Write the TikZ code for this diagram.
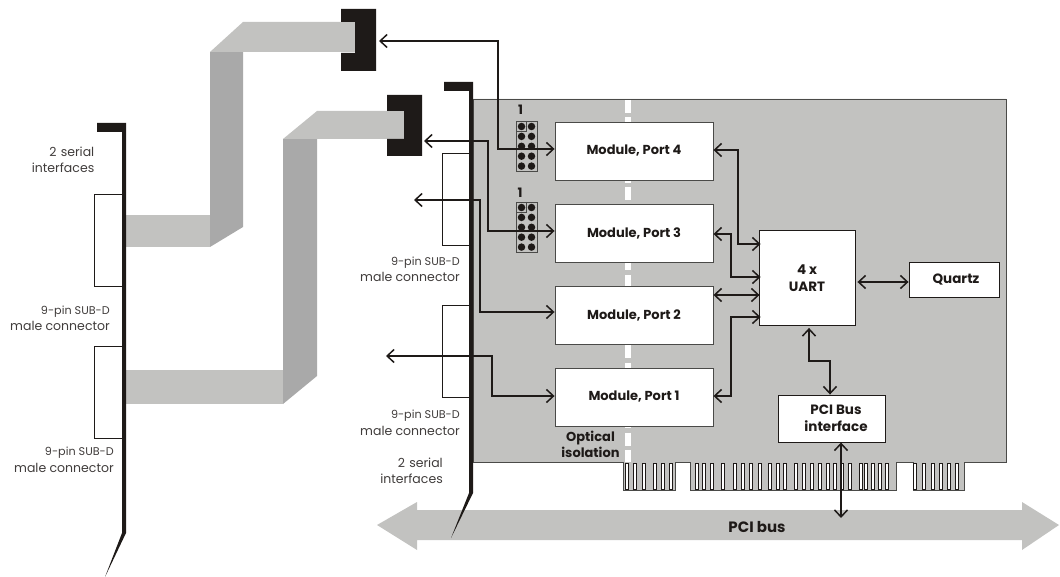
\documentclass[tikz,border=0pt]{standalone}
\usepackage{fontspec}
\setmainfont{Poppins}
\usetikzlibrary{arrows.meta}
\definecolor{ink}{HTML}{1E1A18}
\definecolor{lite}{HTML}{C2C2C0}
\definecolor{dark}{HTML}{A9A9A9}
\definecolor{edge}{HTML}{4A4A48}
\newcommand{\subdtext}{{\fontsize{11.2}{16.5}\selectfont 9-pin SUB-D}}
\tikzset{
  x=1pt,y=-1pt,
  modbox/.style={draw=edge,fill=white,line width=0.9pt,minimum width=158pt,minimum height=58pt,inner sep=0pt,font=\fontsize{13}{15}\selectfont\bfseries,text=ink},
  blk/.style={draw=ink,fill=white,line width=0.9pt,inner sep=0pt,font=\fontsize{13.5}{16.5}\selectfont\bfseries,text=ink,align=center},
  subd/.style={draw=ink,fill=white,line width=0.7pt,minimum width=28pt,minimum height=92pt,inner sep=0pt},
  lbl/.style={inner sep=0pt,font=\fontsize{12.5}{16.5}\selectfont,text=ink!85!white},
  boldlbl/.style={inner sep=0pt,font=\fontsize{13}{16}\selectfont\bfseries,text=ink,align=center},
  link/.style={draw=ink,line width=1.5pt,{Straight Barb[length=7pt,width=13pt,line width=1.5pt]}-{Straight Barb[length=7pt,width=13pt,line width=1.5pt]}},
  pin/.style={circle,fill=ink,minimum size=7.5pt,inner sep=0pt},
}
\begin{document}
\begin{tikzpicture}
\useasboundingbox (0,0) rectangle (1060,577);
% ribbon 1
\fill[lite] (126,215) rectangle (210,247);
\fill[dark] (210,52) -- (243,52) -- (243,227) -- (210,247) -- cycle;
\fill[lite] (210,52) -- (243,22) -- (356,22) -- (356,52) -- cycle;
% ribbon 2
\fill[lite] (126,370) rectangle (283,404);
\fill[dark] (283,139) -- (317,139) -- (317,376) -- (283,404) -- cycle;
\fill[lite] (283,139) -- (317,111) -- (405,111) -- (405,139) -- cycle;
% D-sub plugs
\fill[ink] (341,9) -- (376,9) -- (376,71) -- (341,71) -- (341,53) -- (355,53) -- (355,22) -- (341,22) -- cycle;
\fill[ink] (387,95) -- (422,95) -- (422,156) -- (387,156) -- (387,139) -- (404,139) -- (404,111) -- (387,111) -- cycle;
% PCI bus
\fill[lite] (377,525) -- (417,502) -- (417,510) -- (1022,510) -- (1022,502) -- (1059,525) -- (1022,550) -- (1022,540) -- (417,540) -- (417,550) -- cycle;
\node[inner sep=0pt,font=\fontsize{15}{17}\selectfont\bfseries,text=ink] (pcibus) at (757,527) {PCI bus};
% board with edge connector
\draw[fill=lite,draw=edge,line width=0.9pt] (473,99) -- (1006,99) -- (1006,462) -- (964.5,462) -- (964.5,490) -- (913,490) -- (913,462) -- (896,462) -- (896,490) -- (690,490) -- (690,462) -- (675,462) -- (675,490) -- (623,490) -- (623,462) -- (473,462) -- cycle;
\foreach \s in {627,635,644,655,663,671,697,704,712,723,735,743,751,760,770,778,785,796,804,812,820,828,835,842,850,861,866,873,880,887,915,924,933,941,949,957}
  \draw[draw=ink,fill=white,line width=0.7pt] (\s-1.8,463) rectangle (\s+1.8,489);
% isolation dashes
\draw[white,line width=6pt,dash pattern=on 13pt off 4.5pt] (628,100) -- (628,462);
% modules
\node[modbox] (port4) at (634,151) {Module, Port 4};
\node[modbox] (port3) at (634,233) {Module, Port 3};
\node[modbox] (port2) at (634,315) {Module, Port 2};
\node[modbox] (port1) at (634,397) {Module, Port 1};
\node[blk,minimum width=96pt,minimum height=95pt] (uart) at (807,278) {4 x\\UART};
\node[blk,minimum width=90pt,minimum height=35pt] (quartz) at (954,279.5) {\hspace*{4pt}Quartz};
\node[blk,minimum width=107pt,minimum height=47pt] (pci) at (831.5,418.5) {\hspace*{9pt}PCI Bus\\\hspace*{9pt}interface};
% jumpers
\foreach \n/\yy in {a/121,b/202}{
  \draw[edge,line width=0.7pt,fill=lite] (516,\yy) rectangle (537,\yy+50.5);
  \draw[edge,line width=0.6pt] (516,\yy) rectangle (526.5,\yy+10);
  \draw[edge,line width=0.6pt] (526.5,\yy) -- (526.5,\yy+10);
  \foreach \r in {0,1,2,3,4}{
    \node[pin] (pin\n\r l) at (521.5,\yy+5.5+\r*9.9) {};
    \node[pin] (pin\n\r r) at (531.5,\yy+5.5+\r*9.9) {};
  }
}
\node[boldlbl] (one4) at (520.5,110) {1};
\node[boldlbl] (one3) at (520,192.5) {1};
% slot brackets
\node[subd] (sl1) at (108,240) {};
\node[subd] (sl2) at (108,392) {};
\node[subd] (sr1) at (456,199) {};
\node[subd] (sr2) at (456,351) {};
\fill[ink] (97,123) -- (126,123) -- (126,533) -- (105,577) -- (122,533) -- (122,132) -- (97,132) -- cycle;
\fill[ink] (444,82) -- (473,82) -- (473,493) -- (451,538) -- (469,493) -- (469,91) -- (444,91) -- cycle;
% free ends
\coordinate (c4) at (379,41);
\coordinate (c3) at (424,141);
\coordinate (c2) at (414,200);
\coordinate (c1) at (386,356);
\coordinate (busend) at (841,518);
% connectors
\draw[link] (c4) -- (498,41) -- (498,149) -- ([yshift=2pt]port4.west);
\draw[link] (c3) -- (488,141) -- (488,231) -- ([yshift=2pt]port3.west);
\draw[link] (c2) -- (480,200) -- (480,312) -- ([yshift=3pt]port2.west);
\draw[link] (c1) -- (492,356) -- (492,396) -- ([yshift=1pt]port1.west);
\draw[link] ([yshift=1pt]port4.east) -- (738,150) -- (738,244) -- ([xshift=2pt]uart.west |- 0,244);
\draw[link] ([yshift=-1pt]port3.east) -- (731,234) -- (731,277) -- ([xshift=2pt]uart.west |- 0,277);
\draw[link] ([yshift=20pt]port2.east) -- ([xshift=1pt]uart.west |- 0,295);
\draw[link] ([yshift=1pt]port1.east) -- (731,396) -- (731,317) -- ([xshift=2pt]uart.west |- 0,317);
\draw[link] ([xshift=2pt]uart.east |- 0,282) -- (quartz.west |- 0,282);
\draw[link] ([yshift=-2pt]uart.south -| 809,0) -- (809,361) -- (830,361) -- (pci.north -| 830,0);
\draw[link] (pci.south -| 841,0) -- (busend);
% labels
\node[lbl,align=right,anchor=east] (t1) at (94.5,160) {2\,\,serial\\interfaces};
\node[lbl,align=right,anchor=east] (t2) at (110,318.5) {\subdtext\\male connector};
\node[lbl,align=right,anchor=east] (t3) at (114,460) {\subdtext\\male connector};
\node[lbl,align=right,anchor=east] (t4) at (460,269.5) {\subdtext\\male connector};
\node[lbl,align=right,anchor=east] (t5) at (460,423) {\subdtext\\male connector};
\node[lbl,align=right,anchor=east] (t6) at (443,471) {2\,\,serial\\interfaces};
\node[boldlbl] (iso) at (590.5,444) {Optical\\isolation};
\end{tikzpicture}
\end{document}
